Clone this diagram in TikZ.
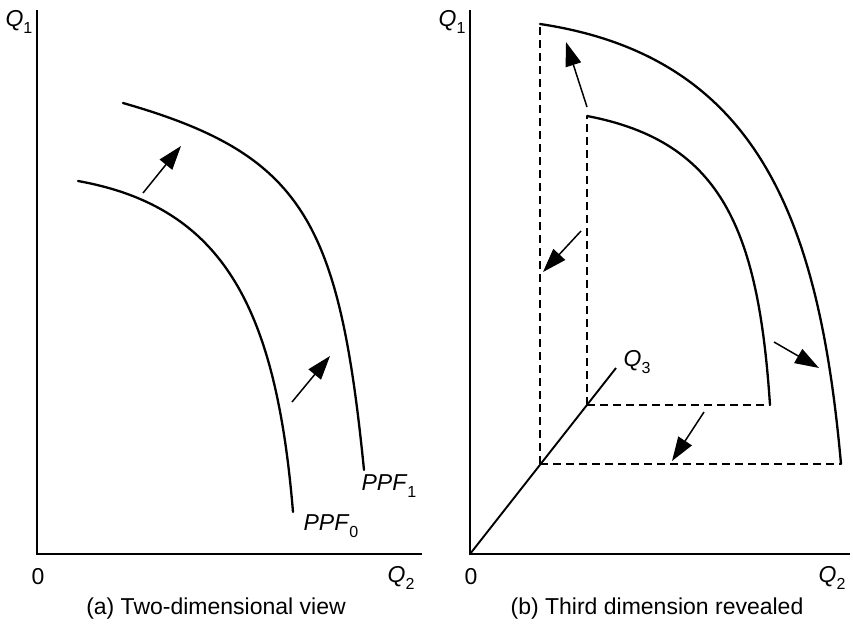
\documentclass[tikz,border=0pt]{standalone}
\usepackage{fontspec}
\setmainfont{Liberation Sans}
\usetikzlibrary{arrows.meta}
\newcommand{\lowsub}[1]{\raisebox{-0.32em}{\fontsize{16}{16}\selectfont #1}}
\tikzset{
  axisline/.style={line width=1.6pt},
  ppfcurve/.style={line width=2.3pt, line cap=round},
  guide/.style={line width=1.8pt, dash pattern=on 8pt off 5pt},
  shiftarrow/.style={line width=1.5pt, -{Triangle[length=24pt,width=16pt]}},
  lbl/.style={font=\fontsize{23}{25}\selectfont, inner sep=0pt},
}
\begin{document}
\begin{tikzpicture}[x=1pt,y=-1pt]
\useasboundingbox[fill=white] (0,0) rectangle (853,624);

% ---------- panel (a) ----------
\coordinate (oa) at (37,554);
\coordinate (ya) at (37,10);
\coordinate (xa) at (422,554);
\draw[axisline] (ya) -- (oa) -- (xa);

\coordinate (p0s) at (78,181);
\coordinate (p0e) at (293,512);
\coordinate (p1s) at (123,103);
\coordinate (p1e) at (364,470);
\draw[ppfcurve] (p0s) .. controls (223,207) and (276,307) .. (p0e);
\draw[ppfcurve] (p1s) .. controls (303,154.5) and (339,220) .. (p1e);

\coordinate (a1t) at (143,193); \coordinate (a1h) at (181,146);
\coordinate (a2t) at (292,402); \coordinate (a2h) at (330,356);
\draw[shiftarrow] (a1t) -- (a1h);
\draw[shiftarrow] (a2t) -- (a2h);

\node[lbl] (q1a) at (19,22) {\textit{Q}\lowsub{1}};
\node[lbl] (za) at (38,577) {0};
\node[lbl] (q2a) at (401,578) {\textit{Q}\lowsub{2}};
\node[lbl] (ppf0) at (331,526) {\textit{PPF}\lowsub{0}};
\node[lbl] (ppf1) at (389,486) {\textit{PPF}\lowsub{1}};
\node[lbl] (capa) at (216,609) {(a) Two-dimensional view};

% ---------- panel (b) ----------
\coordinate (ob) at (470,554);
\coordinate (yb) at (470,10);
\coordinate (xb) at (850,554);
\coordinate (q3e) at (616,368);
\draw[axisline] (yb) -- (ob) -- (xb);
\draw[line width=1.9pt] (ob) -- (q3e);

\coordinate (pa) at (540,464);
\coordinate (pb) at (587,405);
\coordinate (outTop) at (540,24);
\coordinate (outEnd) at (841,464);
\coordinate (inTop) at (587,116);
\coordinate (inEnd) at (770,405);

\draw[guide] (pa) -- (outTop);
\draw[guide] (pa) -- (outEnd);
\draw[guide] (pb) -- (inTop);
\draw[guide] (pb) -- (inEnd);

\draw[ppfcurve] (outTop) .. controls (760,57) and (819.4,223) .. (outEnd);
\draw[ppfcurve] (inTop) .. controls (722,141.6) and (758.3,230) .. (inEnd);

\coordinate (b1t) at (587,107); \coordinate (b1h) at (566,42);
\coordinate (b2t) at (581,231); \coordinate (b2h) at (543,272);
\coordinate (b3t) at (774,342); \coordinate (b3h) at (819,368);
\coordinate (b4t) at (704,412); \coordinate (b4h) at (672,461);
\draw[shiftarrow] (b1t) -- (b1h);
\draw[shiftarrow] (b2t) -- (b2h);
\draw[shiftarrow] (b3t) -- (b3h);
\draw[shiftarrow] (b4t) -- (b4h);

\node[lbl] (q1b) at (452,22) {\textit{Q}\lowsub{1}};
\node[lbl] (q3) at (637,362) {\textit{Q}\lowsub{3}};
\node[lbl] (zb) at (471,577) {0};
\node[lbl] (q2b) at (832,578) {\textit{Q}\lowsub{2}};
\node[lbl] (capb) at (657,609) {(b) Third dimension revealed};
\end{tikzpicture}
\end{document}
